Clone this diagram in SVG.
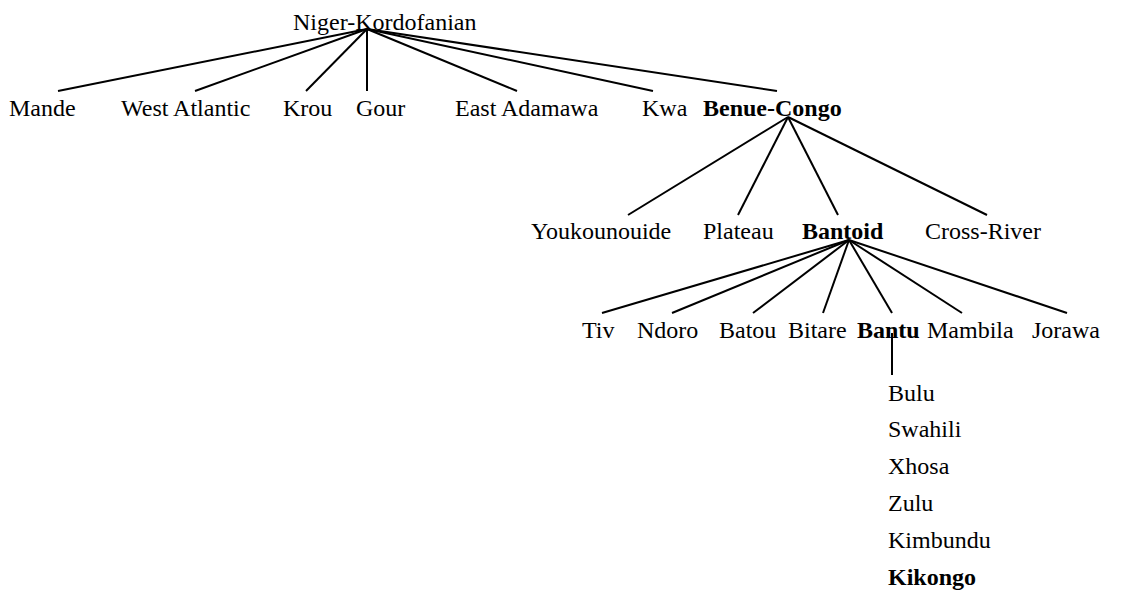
<svg xmlns="http://www.w3.org/2000/svg" width="1136" height="593" viewBox="0 0 1136 593">
<style>
text{font-family:"Liberation Serif","Times New Roman",serif;font-size:24px;fill:#000}
.b{font-weight:bold}
line{stroke:#000;stroke-width:2}
</style>
<rect width="1136" height="593" fill="#fff"/>
<g id="connectors">
<line x1="367" y1="29" x2="58" y2="91"/>
<line x1="367" y1="29" x2="195" y2="91"/>
<line x1="367" y1="29" x2="306" y2="91"/>
<line x1="367" y1="29" x2="367" y2="91"/>
<line x1="367" y1="29" x2="517" y2="91"/>
<line x1="367" y1="29" x2="653" y2="91"/>
<line x1="367" y1="29" x2="777" y2="91"/>
<line x1="788" y1="117" x2="628" y2="215"/>
<line x1="788" y1="117" x2="738" y2="215"/>
<line x1="788" y1="117" x2="838" y2="215"/>
<line x1="788" y1="117" x2="987" y2="215"/>
<line x1="849" y1="240" x2="602" y2="313"/>
<line x1="849" y1="240" x2="672" y2="313"/>
<line x1="849" y1="240" x2="753" y2="313"/>
<line x1="849" y1="240" x2="823" y2="313"/>
<line x1="849" y1="240" x2="892" y2="313"/>
<line x1="849" y1="240" x2="962" y2="313"/>
<line x1="849" y1="240" x2="1067" y2="313"/>
<line x1="892" y1="333" x2="892" y2="375"/>
</g>
<g id="n-root"><text x="293" y="30">Niger-Kordofanian</text></g>
<g id="n-mande"><text x="9" y="116">Mande</text></g>
<g id="n-westatlantic"><text x="121" y="116">West Atlantic</text></g>
<g id="n-krou"><text x="283" y="116">Krou</text></g>
<g id="n-gour"><text x="356" y="116">Gour</text></g>
<g id="n-eastadamawa"><text x="455" y="116">East Adamawa</text></g>
<g id="n-kwa"><text x="642" y="116">Kwa</text></g>
<g id="n-benuecongo"><text class="b" x="703" y="116">Benue-Congo</text></g>
<g id="n-youkounouide"><text x="531" y="239">Youkounouide</text></g>
<g id="n-plateau"><text x="703" y="239">Plateau</text></g>
<g id="n-bantoid"><text class="b" x="802" y="239">Bantoid</text></g>
<g id="n-crossriver"><text x="925" y="239">Cross-River</text></g>
<g id="n-tiv"><text x="582" y="338">Tiv</text></g>
<g id="n-ndoro"><text x="637" y="338">Ndoro</text></g>
<g id="n-batou"><text x="719" y="338">Batou</text></g>
<g id="n-bitare"><text x="788" y="338">Bitare</text></g>
<g id="n-bantu"><text class="b" x="857" y="338">Bantu</text></g>
<g id="n-mambila"><text x="927" y="338">Mambila</text></g>
<g id="n-jorawa"><text x="1032" y="338">Jorawa</text></g>
<g id="n-bantu-list">
<text x="888" y="401">Bulu</text>
<text x="888" y="437">Swahili</text>
<text x="888" y="474">Xhosa</text>
<text x="888" y="511">Zulu</text>
<text x="888" y="548">Kimbundu</text>
<text class="b" x="888" y="585">Kikongo</text>
</g>
</svg>
